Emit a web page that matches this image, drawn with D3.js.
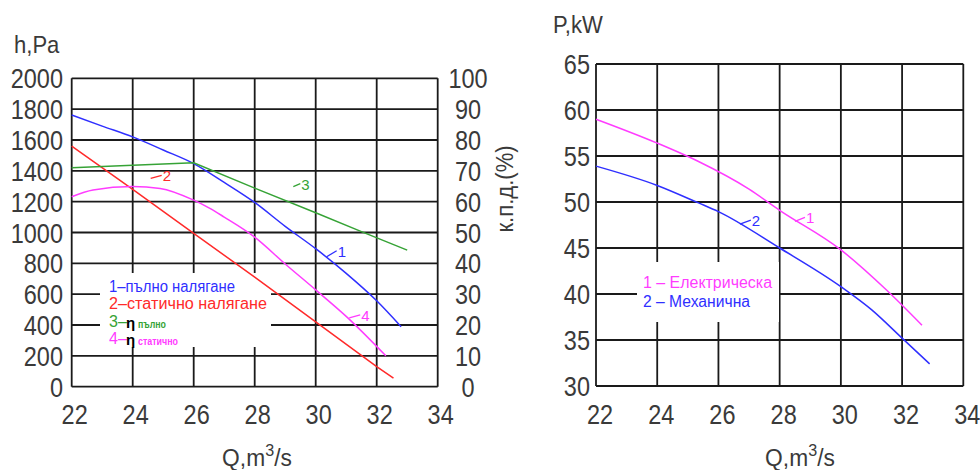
<!DOCTYPE html>
<html>
<head>
<meta charset="utf-8">
<script src="https://cdn.jsdelivr.net/npm/d3@7"></script>
<style>
  html, body { margin: 0; padding: 0; background: #fff; }
  svg { display: block; }
  .tick-label { font-family: "Liberation Sans", "DejaVu Sans", sans-serif; font-size: 28px; fill: #3a3a3a; }
  .axis-title { font-family: "Liberation Sans", "DejaVu Sans", sans-serif; font-size: 24px; fill: #3a3a3a; }
  .legend { font-family: "Liberation Sans", "DejaVu Sans", sans-serif; font-size: 16px; }
  .curve-label { font-family: "Liberation Sans", "DejaVu Sans", sans-serif; font-size: 15px; }
</style>
</head>
<body>
<svg id="chart" width="980" height="470"></svg>
<script>
// Flow rate ticks shared by both panels
const qTicks = [22, 24, 26, 28, 30, 32, 34];
const pressureTicks = [0, 200, 400, 600, 800, 1000, 1200, 1400, 1600, 1800, 2000];
const efficiencyTicks = [0, 10, 20, 30, 40, 50, 60, 70, 80, 90, 100];
const powerTicks = [30, 35, 40, 45, 50, 55, 60, 65];

// 1 – full pressure, Pa
const qFull = [22, 23, 24, 25, 26, 27, 28, 29, 30, 31, 32, 32.8];
const hFull = [1762, 1690, 1620, 1535, 1447, 1325, 1195, 1040, 895, 735, 557, 389];

// 2 – static pressure, Pa
const qStatic = [22, 24, 26, 28, 30, 32, 32.55];
const hStatic = [1560, 1280, 995, 710, 420, 130, 55];

// 3 – full efficiency, %
const qEtaFull = [22, 26, 28, 30, 31.5, 33];
const etaFull = [71, 72.6, 64.4, 56.4, 50.3, 44.3];

// 4 – static efficiency, %
const qEtaStatic = [22, 22.7, 24, 24.9, 26, 26.5, 27, 28, 29, 30, 31, 32.3];
const etaStatic = [61.6, 63.8, 64.9, 64.3, 60.5, 58.0, 55.0, 48.5, 39.8, 31.4, 22.8, 10.0];

// Power, kW: 1 – electrical, 2 – mechanical
const qElec = [22, 24, 25.35, 27, 28, 30, 31.5, 32.65];
const pElec = [59.0, 56.4, 54.4, 51.4, 49.1, 44.8, 40.4, 36.6];
const qMech = [22, 24, 25.35, 26, 28, 30, 31, 32, 32.9];
const pMech = [53.9, 51.8, 49.9, 48.95, 45.0, 40.8, 38.3, 35.2, 32.4];

const COLORS = { blue: "#2f2fff", red: "#ff2a2a", green: "#36a336", magenta: "#ff3cff" };

const svg = d3.select("#chart");
const zip = (xs, ys) => xs.map((x, i) => [x, ys[i]]);

// ---------- Left panel: pressure and efficiency ----------
const L = { left: 71.7, right: 437.7, top: 78.3, bottom: 386.7 };
const xL = d3.scaleLinear().domain([22, 34]).range([L.left, L.right]);
const yH = d3.scaleLinear().domain([0, 2000]).range([L.bottom, L.top]);
const yEta = d3.scaleLinear().domain([0, 100]).range([L.bottom, L.top]);

// ---------- Right panel: power ----------
const R = { left: 596, right: 963.3, top: 64, bottom: 386 };
const xR = d3.scaleLinear().domain([22, 34]).range([R.left, R.right]);
const yP = d3.scaleLinear().domain([30, 65]).range([R.bottom, R.top]);

function drawGrid(g, x, y, xt, yt) {
  g.selectAll(".vg").data(xt).join("line")
    .attr("x1", d => x(d)).attr("x2", d => x(d))
    .attr("y1", y.range()[1]).attr("y2", y.range()[0])
    .attr("stroke", "#1a1a1a").attr("stroke-width", 1.8);
  g.selectAll(".hg").data(yt).join("line")
    .attr("x1", x.range()[0]).attr("x2", x.range()[1])
    .attr("y1", d => y(d)).attr("y2", d => y(d))
    .attr("stroke", "#1a1a1a").attr("stroke-width", 1.8);
}

const gridL = svg.append("g");
drawGrid(gridL, xL, yH, qTicks, pressureTicks);
const gridR = svg.append("g");
drawGrid(gridR, xR, yP, qTicks, powerTicks);

// Legend backgrounds break the grid lines
svg.append("rect").attr("x", 100).attr("y", 273).attr("width", 171).attr("height", 74).attr("fill", "#fff");
svg.append("rect").attr("x", 637).attr("y", 262).attr("width", 142).attr("height", 60).attr("fill", "#fff");

// Condensed drafting-style labels: glyphs squeezed horizontally around their anchor
const SQUEEZE = 0.84;
function narrowLabels(cls, data, xf, yf, anchor) {
  svg.append("g").attr("class", cls).selectAll("text").data(data).join("text")
    .attr("transform", d => `translate(${xf(d)},${yf(d)}) scale(${SQUEEZE},1)`)
    .attr("text-anchor", anchor).text(d => d);
}
narrowLabels("tick-label", pressureTicks, () => 63, d => yH(d) + 10, "end");
narrowLabels("tick-label", efficiencyTicks, () => 468, d => yEta(d) + 10, "middle");
narrowLabels("tick-label", powerTicks, () => 590, d => yP(d) + 10, "end");
narrowLabels("tick-label", qTicks, d => xL(d) + 3, () => 424, "middle");
narrowLabels("tick-label", qTicks, d => xR(d) + 4, () => 424, "middle");

// Axis titles
function narrowTitle(x, y, text, anchor, rotate) {
  return svg.append("text").attr("class", "axis-title")
    .attr("transform", `translate(${x},${y})${rotate ? " rotate(" + rotate + ")" : ""} scale(0.92,1)`)
    .attr("text-anchor", anchor || "start").text(text);
}
narrowTitle(14, 53, "h,Pa");
narrowTitle(553, 33, "P,kW");
narrowTitle(513, 189, "к.п.д.(%)", "middle", -90);

function qTitle(cx) {
  const t = svg.append("text").attr("class", "axis-title")
    .attr("transform", `translate(${cx},466) scale(0.95,1)`).attr("text-anchor", "middle");
  t.append("tspan").text("Q,m");
  t.append("tspan").attr("dy", -10).attr("font-size", 17).text("3");
  t.append("tspan").attr("dy", 10).text("/s");
}
qTitle(257);
qTitle(800);

// Curves
const lineFor = (x, y, curve) => d3.line().x(d => x(d[0])).y(d => y(d[1])).curve(curve);

function drawCurve(pts, x, y, color, curve) {
  svg.append("path").datum(pts)
    .attr("d", lineFor(x, y, curve))
    .attr("fill", "none").attr("stroke", color).attr("stroke-width", 1.5);
}

drawCurve(zip(qFull, hFull), xL, yH, COLORS.blue, d3.curveMonotoneX);
drawCurve(zip(qStatic, hStatic), xL, yH, COLORS.red, d3.curveLinear);
drawCurve(zip(qEtaFull, etaFull), xL, yEta, COLORS.green, d3.curveLinear);
drawCurve(zip(qEtaStatic, etaStatic), xL, yEta, COLORS.magenta, d3.curveMonotoneX);
drawCurve(zip(qElec, pElec), xR, yP, COLORS.magenta, d3.curveMonotoneX);
drawCurve(zip(qMech, pMech), xR, yP, COLORS.blue, d3.curveMonotoneX);

// Numbered leaders on the curves
function curveLabel(x0, y0, dx, dy, text, color) {
  svg.append("line").attr("x1", x0).attr("y1", y0).attr("x2", x0 + dx).attr("y2", y0 + dy)
    .attr("stroke", color).attr("stroke-width", 1.3);
  svg.append("text").attr("class", "curve-label").attr("x", x0 + dx + 1).attr("y", y0 + dy + 6)
    .attr("fill", color).text(text);
}
curveLabel(xL(30.36), yH(843), 10, -6, "1", COLORS.blue);
curveLabel(150.7, 178.3, 11, -3, "2", COLORS.red);
curveLabel(293.3, 186.7, 7, -3, "3", COLORS.green);
curveLabel(xL(31.1), yEta(22.3), 11, -3, "4", COLORS.magenta);
curveLabel(xR(28.5), yP(47.9), 10, -4, "1", COLORS.magenta);
curveLabel(xR(26.7), yP(47.6), 11, -4, "2", COLORS.blue);

// Left legend
const legL = svg.append("g").attr("class", "legend");
legL.append("text").attr("x", 109).attr("y", 292).attr("fill", COLORS.blue)
  .attr("textLength", 126).attr("lengthAdjust", "spacingAndGlyphs").text("1–пълно налягане");
legL.append("text").attr("x", 109).attr("y", 309).attr("fill", COLORS.red)
  .attr("textLength", 158).attr("lengthAdjust", "spacingAndGlyphs").text("2–статично налягане");
function etaEntry(y, num, sub, color, subLen) {
  legL.append("text").attr("x", 109).attr("y", y).attr("fill", color).text(num + "–");
  legL.append("text").attr("x", 126).attr("y", y + 1).attr("fill", "#000")
    .attr("font-weight", "bold").attr("font-size", 15).text("η");
  legL.append("text").attr("x", 138).attr("y", y + 1).attr("fill", color)
    .attr("font-weight", "bold").attr("font-size", 10)
    .attr("textLength", subLen).attr("lengthAdjust", "spacingAndGlyphs").text(sub);
}
etaEntry(327, "3", "пълно", COLORS.green, 28);
etaEntry(344, "4", "статично", COLORS.magenta, 40);

// Right legend
const legR = svg.append("g").attr("class", "legend");
legR.append("text").attr("x", 643).attr("y", 288).attr("fill", COLORS.magenta)
  .attr("textLength", 129).attr("lengthAdjust", "spacingAndGlyphs").text("1 – Електрическа");
legR.append("text").attr("x", 643).attr("y", 307).attr("fill", COLORS.blue)
  .attr("textLength", 107).attr("lengthAdjust", "spacingAndGlyphs").text("2 – Механична");
</script>
</body>
</html>
